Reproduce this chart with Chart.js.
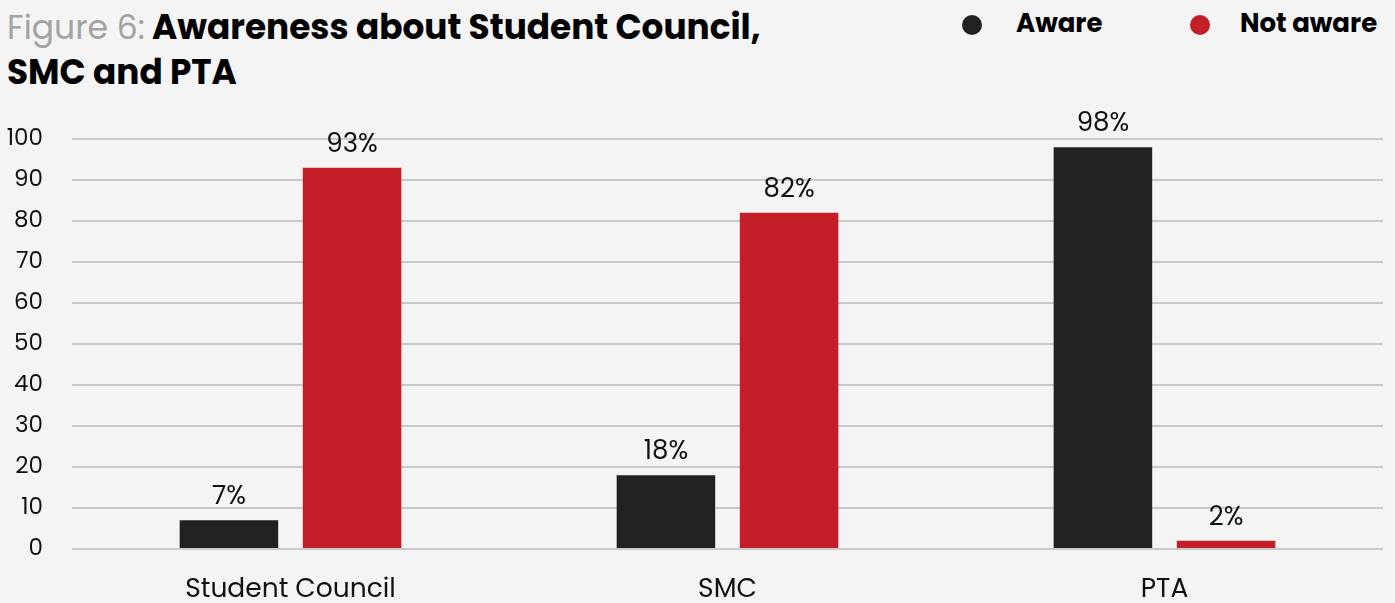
<!DOCTYPE html>
<html>
<head>
<meta charset="utf-8">
<script src="https://cdn.jsdelivr.net/npm/chart.js@4.4.1/dist/chart.umd.min.js"></script>
<style>
  html, body { margin: 0; padding: 0; }
  body {
    width: 1395px; height: 603px; position: relative; overflow: hidden;
    background: #f4f4f4;
    font-family: Poppins, Inter, sans-serif;
  }
  #title {
    position: absolute; left: 7px; top: 5px;
    font-size: 34.3px; line-height: 44px; color: #000; font-weight: 700;
  }
  #title .fig { color: #a3a3a3; font-weight: 400; font-size: 33px; }
  .leg { position: absolute; top: 6px; height: 34px; font-size: 26px; font-weight: 700; color: #000; line-height: 34px; }
  .leg .dot { position: absolute; width: 20px; height: 20px; border-radius: 50%; top: 9px; left: 0; }
  .leg .txt { position: absolute; white-space: nowrap; }
  #chart { position: absolute; left: 0; top: 0; }
</style>
</head>
<body>
<div id="title"><span class="fig">Figure 6:</span> Awareness about Student Council,<br>SMC and PTA</div>
<div id="legend"></div>
<canvas id="chart" width="1395" height="603"></canvas>
<script>
var categories = ["Student Council", "SMC", "PTA"];
var aware = [7, 18, 98];
var notAware = [93, 82, 2];
var seriesNames = ["Aware", "Not aware"];
var seriesColors = ["#222120", "#c41f28"];

// legend built from the series names and colours
var legendDotX = [962, 1190];
var legendTextGap = [54, 50];
var legendHtml = "";
seriesNames.forEach(function (name, i) {
    legendHtml += "<div class='leg' style='left:" + legendDotX[i] + "px'>" +
        "<span class='dot' style='background:" + seriesColors[i] + "'></span>" +
        "<span class='txt' style='left:" + legendTextGap[i] + "px'>" + name + "</span></div>";
});
document.getElementById("legend").innerHTML = legendHtml;

// percentage above each bar
var valueLabels = {
    id: 'valueLabels',
    afterDatasetsDraw: function (chart) {
        var ctx = chart.ctx;
        ctx.save();
        ctx.font = '26px Poppins, Inter, sans-serif';
        ctx.fillStyle = '#111';
        ctx.textAlign = 'center';
        ctx.textBaseline = 'alphabetic';
        chart.data.datasets.forEach(function (ds, i) {
            chart.getDatasetMeta(i).data.forEach(function (bar, j) {
                ctx.fillText(ds.data[j] + '%', bar.x, bar.y - 16);
            });
        });
        ctx.restore();
    }
};

var ctx = document.getElementById("chart");
var myChart = new Chart(ctx, {
    type: 'bar',
    data: {
        labels: categories,
        datasets: [{
            label: seriesNames[0],
            data: aware,
            backgroundColor: seriesColors[0],
            categoryPercentage: 0.5636,
            barPercentage: 0.8
        }, {
            label: seriesNames[1],
            data: notAware,
            backgroundColor: seriesColors[1],
            categoryPercentage: 0.5636,
            barPercentage: 0.8
        }]
    },
    options: {
        responsive: false,
        animation: false,
        devicePixelRatio: 1,
        layout: { padding: { top: 139, right: 12, bottom: 0, left: 0 } },
        plugins: {
            legend: { display: false },
            title: { display: false },
            tooltip: { enabled: false }
        },
        scales: {
            y: {
                min: 0,
                max: 100,
                ticks: {
                    stepSize: 10,
                    color: '#111',
                    padding: 29,
                    font: { family: 'Poppins, Inter, sans-serif', size: 23 }
                },
                grid: { color: '#c9c9c9', lineWidth: 2, drawTicks: false },
                border: { display: false },
                afterFit: function (axis) { axis.width = 72; }
            },
            x: {
                ticks: {
                    color: '#111',
                    padding: 25,
                    font: { family: 'Poppins, Inter, sans-serif', size: 26.5 }
                },
                grid: { display: false, drawTicks: false },
                border: { display: false },
                afterFit: function (axis) { axis.height = 54; }
            }
        }
    },
    plugins: [valueLabels]
});
</script>
</body>
</html>
